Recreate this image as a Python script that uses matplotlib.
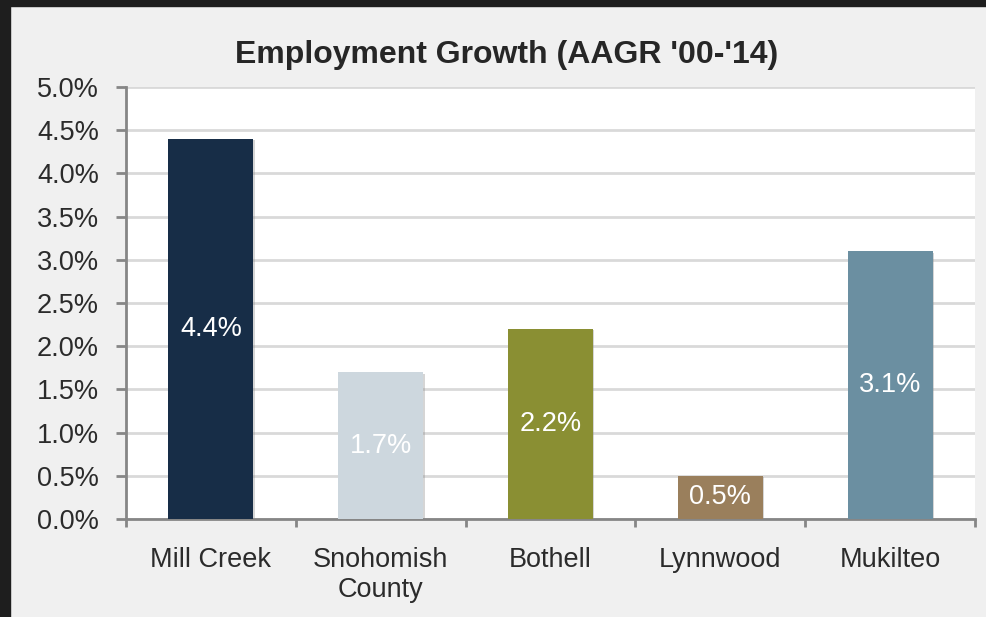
import matplotlib
matplotlib.use("Agg")
import matplotlib.pyplot as plt
from matplotlib.patches import Rectangle
from matplotlib import patheffects as pe
import numpy as np

plt.rcParams['font.family'] = ['Liberation Sans', 'DejaVu Sans']

# employment growth, average annual rate 2000-2014 (percent)
places = ["Mill Creek", "Snohomish\nCounty", "Bothell", "Lynnwood", "Mukilteo"]
growth = [4.4, 1.7, 2.2, 0.5, 3.1]
bar_colors = ["#172d47", "#cdd7de", "#8a8f33", "#9a7f5c", "#6b8fa1"]
yticks = [0.0, 0.5, 1.0, 1.5, 2.0, 2.5, 3.0, 3.5, 4.0, 4.5, 5.0]

fig = plt.figure(figsize=(9.86, 6.17), dpi=100, facecolor="#f0f0f0")

# dark frame strips along top and left edge
fig.add_artist(Rectangle((0, 0), 10 / 986, 1, transform=fig.transFigure,
                         color="#1e1e1e", zorder=0))
fig.add_artist(Rectangle((0, 1 - 6 / 617), 1, 6 / 617, transform=fig.transFigure,
                         color="#1e1e1e", zorder=0))

ax = fig.add_axes([126 / 986, 1 - 519 / 617, (975 - 126) / 986, (519 - 87) / 617])
ax.set_facecolor("white")

x = np.arange(len(places))
bars = ax.bar(x, growth, width=0.5, color=bar_colors, zorder=3)
for b in bars:
    b.set_path_effects([pe.SimplePatchShadow(offset=(1, -1), shadow_rgbFace="#888888", alpha=0.35),
                        pe.Normal()])

for xi, v in zip(x, growth):
    ax.text(xi, v / 2, f"{v:.1f}%", ha="center", va="center",
            color="white", fontsize=19.5, zorder=4)

ax.set_xlim(-0.5, len(places) - 0.5)
ax.set_ylim(0, 5.0)
ax.set_yticks(yticks)
ax.set_yticklabels([f"{t:.1f}%" for t in yticks])
ax.yaxis.grid(True, color="#d9d9d9", linewidth=2, zorder=0)
ax.set_axisbelow(True)

# category labels centred, ticks on category boundaries
ax.set_xticks(x)
ax.set_xticklabels(places)
ax.set_xticks(np.arange(len(places) + 1) - 0.5, minor=True)
ax.tick_params(axis="x", which="major", length=0, pad=20, labelsize=19.5, labelcolor="#2b2b2b")
ax.tick_params(axis="x", which="minor", length=6, width=2, color="#868686", direction="out")
ax.tick_params(axis="y", length=7.5, width=2, color="#868686", pad=12,
               labelsize=19.5, labelcolor="#2b2b2b")

for side in ["top", "right"]:
    ax.spines[side].set_visible(False)
for side in ["left", "bottom"]:
    ax.spines[side].set_color("#868686")
    ax.spines[side].set_linewidth(2)

fig.text(507 / 986, 1 - 55 / 617, "Employment Growth (AAGR '00-'14)", ha="center", va="center",
         fontsize=23, fontweight="bold", color="#262626")

fig.savefig("out.png", dpi=100, facecolor=fig.get_facecolor())
